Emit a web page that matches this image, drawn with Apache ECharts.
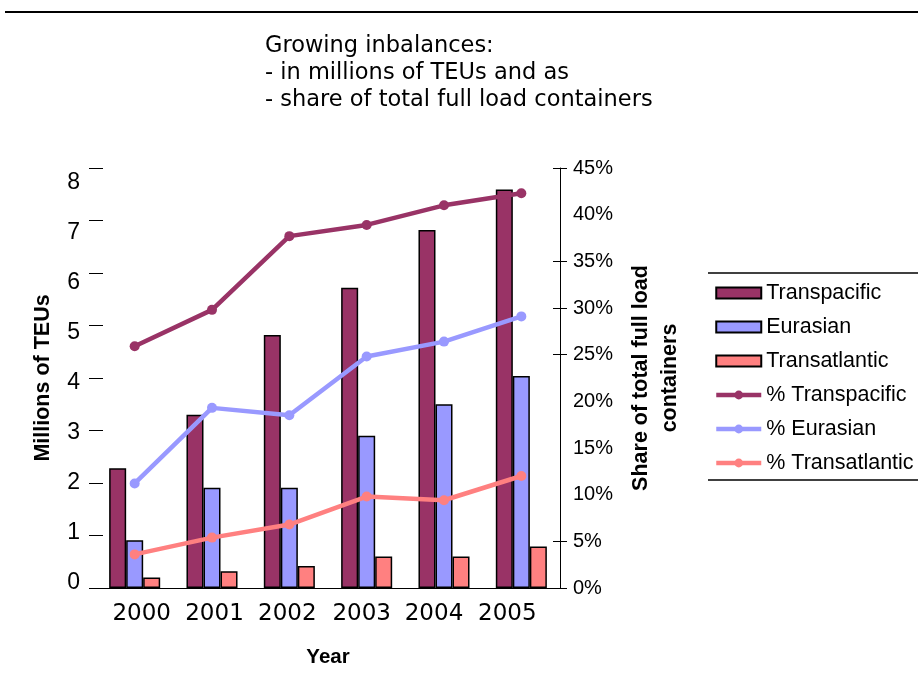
<!DOCTYPE html>
<html><head><meta charset="utf-8">
<script src="https://cdn.jsdelivr.net/npm/echarts@6/dist/echarts.min.js"></script>
<style>html,body{margin:0;padding:0;background:#fff}#c{width:918px;height:686px}</style>
</head><body><div id="c"></div>
<script>
// ---- data ----
const years = ['2000', '2001', '2002', '2003', '2004', '2005'];
const transpacificTEU = [2.28, 3.30, 4.82, 5.72, 6.82, 7.59];
const eurasianTEU = [0.91, 1.91, 1.91, 2.90, 3.50, 4.04];
const transatlanticTEU = [0.20, 0.32, 0.42, 0.60, 0.60, 0.79];
const transpacificShare = [25.9, 29.8, 37.7, 38.9, 41.0, 42.3];
const eurasianShare = [11.2, 19.3, 18.5, 24.8, 26.4, 29.1];
const transatlanticShare = [3.6, 5.4, 6.8, 9.8, 9.4, 12.0];
const teuTickLabels = [0, 1, 2, 3, 4, 5, 6, 7, 8];
const shareTickMarks = [0, 5, 25, 30, 35, 45];
const seriesNames = ['Transpacific', 'Eurasian', 'Transatlantic', '% Transpacific', '% Eurasian', '% Transatlantic'];
const titleText = 'Growing inbalances:\n- in millions of TEUs and as\n- share of total full load containers';

// ---- style ----
const C_TP = '#993366', C_EU = '#9999FF', C_TA = '#FF8080';
const yearLabelShift = [14, 5, -4, -10, -20, -28]; // padding tweak (px) to mimic reference label placement
const sans = 'Liberation Sans, Arial, sans-serif';
const wide = 'DejaVu Sans, Verdana, sans-serif';

const rich = {};
yearLabelShift.forEach((s, i) => {
  rich['y' + i] = {
    fontFamily: wide, fontSize: 23, color: '#000',
    padding: s >= 0 ? [0, 0, 0, s] : [0, -s, 0, 0]
  };
});

const chart = echarts.init(document.getElementById('c'), null, {renderer: 'canvas'});
const barStyle = c => ({color: c, borderColor: '#000', borderWidth: 1.5});
const lineSeries = (name, data, c) => ({
  name, type: 'line', yAxisIndex: 1, data, symbol: 'circle', symbolSize: 10,
  lineStyle: {color: c, width: 4.5}, itemStyle: {color: c}, z: 5
});

chart.setOption({
  animation: false,
  backgroundColor: '#fff',
  title: {
    text: titleText, left: 265, top: 33, padding: 0,
    textStyle: {fontFamily: wide, fontSize: 22.5, fontWeight: 'normal', color: '#000', lineHeight: 27}
  },
  grid: {left: 96, right: 358, top: 168, bottom: 98, containLabel: false},
  legend: {
    orient: 'vertical', left: 714, top: 282, padding: 0,
    itemWidth: 45, itemHeight: 11, itemGap: 12,
    data: seriesNames.map((n, i) => i < 3 ? {name: n, icon: 'rect', itemStyle: {borderWidth: 2}} : {name: n, lineStyle: {width: 4.5}}),
    textStyle: {fontFamily: sans, fontSize: 21.5, color: '#000', lineHeight: 20}
  },
  xAxis: {
    type: 'category', data: years,
    axisLine: {lineStyle: {color: '#000', width: 1}},
    axisTick: {show: false},
    axisLabel: {
      margin: 15, interval: 0,
      formatter: (v, i) => '{y' + i + '|' + v + '}', rich
    },
    name: 'Year', nameLocation: 'middle', nameGap: 59,
    nameTextStyle: {fontFamily: sans, fontSize: 20.5, fontWeight: 'bold', color: '#000'}
  },
  yAxis: [
    { // left value axis (bars)
      type: 'value', position: 'left', min: 0, max: 8, interval: 1,
      axisLine: {show: false}, axisTick: {show: true, length: 7, lineStyle: {color: '#000'}},
      axisLabel: {show: false}, splitLine: {show: false}
    },
    { // right percent axis (lines)
      type: 'value', position: 'right', min: 0, max: 45, interval: 5,
      axisLine: {show: true, lineStyle: {color: '#000', width: 1}},
      axisTick: {show: true, length: 7, customValues: shareTickMarks, lineStyle: {color: '#000'}},
      axisLabel: {formatter: '{value}%', fontFamily: sans, fontSize: 20, color: '#000', margin: 13},
      splitLine: {show: false},
      name: 'Share of total full load\ncontainers', nameLocation: 'middle', nameRotate: 90, nameGap: 67,
      nameTextStyle: {fontFamily: sans, fontSize: 21.5, fontWeight: 'bold', color: '#000', lineHeight: 29}
    },
    { // left labels + name
      type: 'value', position: 'left', min: -0.1, max: 8.3,
      axisLine: {show: false}, axisTick: {show: false}, splitLine: {show: false},
      axisLabel: {customValues: teuTickLabels, fontFamily: sans, fontSize: 23, color: '#000', margin: 16},
      name: 'Millions of TEUs', nameLocation: 'middle', nameGap: 42,
      nameTextStyle: {fontFamily: sans, fontSize: 21.5, fontWeight: 'bold', color: '#000'}
    },
    { // right inner tick half
      type: 'value', position: 'right', min: 0, max: 45, interval: 5,
      axisLine: {show: false}, axisLabel: {show: false}, splitLine: {show: false},
      axisTick: {show: true, inside: true, length: 7, customValues: shareTickMarks, lineStyle: {color: '#000'}}
    },
    { // left inner tick half
      type: 'value', position: 'left', min: 0, max: 8, interval: 1,
      axisLine: {show: false}, axisLabel: {show: false}, splitLine: {show: false},
      axisTick: {show: true, inside: true, length: 7, lineStyle: {color: '#000'}}
    }
  ],
  graphic: [
    {type: 'line', shape: {x1: 5, y1: 12, x2: 918, y2: 12}, style: {stroke: '#000', lineWidth: 2}},
    {type: 'line', shape: {x1: 708, y1: 273, x2: 918, y2: 273}, style: {stroke: '#000', lineWidth: 1.5}},
    {type: 'line', shape: {x1: 708, y1: 480, x2: 918, y2: 480}, style: {stroke: '#000', lineWidth: 1.5}}
  ],
  series: [
    {name: seriesNames[0], type: 'bar', data: transpacificTEU, itemStyle: barStyle(C_TP), barGap: '0%', barCategoryGap: '34%'},
    {name: seriesNames[1], type: 'bar', data: eurasianTEU, itemStyle: barStyle(C_EU)},
    {name: seriesNames[2], type: 'bar', data: transatlanticTEU, itemStyle: barStyle(C_TA)},
    lineSeries(seriesNames[3], transpacificShare, C_TP),
    lineSeries(seriesNames[4], eurasianShare, C_EU),
    lineSeries(seriesNames[5], transatlanticShare, C_TA)
  ]
});
</script></body></html>
